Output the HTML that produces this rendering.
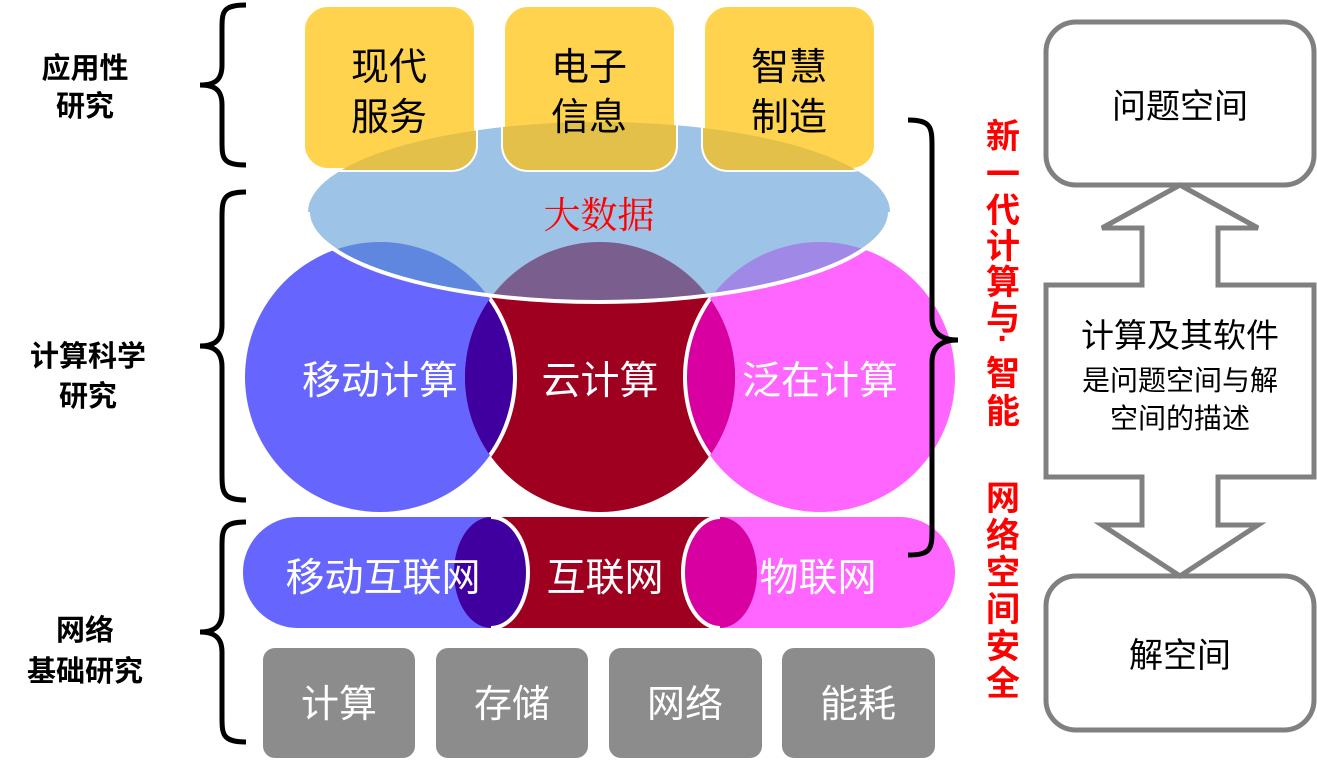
<!DOCTYPE html>
<html><head><meta charset="utf-8"><style>
html,body{margin:0;padding:0;background:#fff;}
svg{display:block;}
text{font-family:"Liberation Sans","Noto Sans CJK SC",sans-serif;}
.serif{font-family:"Liberation Serif","Noto Serif CJK SC",serif;}
</style></head><body>
<svg width="1317" height="767" viewBox="0 0 1317 767" xmlns="http://www.w3.org/2000/svg">
<defs>
<clipPath id="cc"><circle cx="600" cy="377" r="135"/></clipPath>
<clipPath id="cm"><circle cx="380" cy="377" r="135"/></clipPath>
<clipPath id="cp"><circle cx="820" cy="377" r="135"/></clipPath>
<clipPath id="ce"><ellipse cx="599" cy="212" rx="291" ry="90"/></clipPath>
<clipPath id="boxes">
<rect x="303" y="5" width="173" height="165" rx="25"/>
<rect x="503" y="5" width="173" height="165" rx="25"/>
<rect x="703" y="5" width="173" height="165" rx="25"/>
</clipPath>
</defs>

<!-- circles -->
<circle cx="380" cy="377" r="135" fill="#6666ff"/>
<circle cx="820" cy="377" r="135" fill="#ff66ff"/>
<circle cx="600" cy="377" r="135" fill="#a00020"/>
<g clip-path="url(#cc)">
<circle cx="380" cy="377" r="135" fill="#4000a0" stroke="#fff" stroke-width="4"/>
<circle cx="820" cy="377" r="135" fill="#d800a0" stroke="#fff" stroke-width="4"/>
</g>

<!-- big data ellipse -->
<ellipse cx="599" cy="212" rx="291" ry="90" fill="#9dc3e6"/>
<g clip-path="url(#ce)">
<circle cx="380" cy="377" r="135" fill="#5f87e0"/>
<circle cx="820" cy="377" r="135" fill="#a088e6"/>
<circle cx="600" cy="377" r="135" fill="#7a5f8e"/>
</g>
<path d="M308,212 A291,90 0 0 0 890,212" fill="none" stroke="#fff" stroke-width="4"/>

<!-- yellow boxes -->
<g fill="#ffd34d" stroke="#fff" stroke-width="4">
<rect x="303" y="5" width="173" height="165" rx="25"/>
<rect x="503" y="5" width="173" height="165" rx="25"/>
<rect x="703" y="5" width="173" height="165" rx="25"/>
</g>
<g clip-path="url(#boxes)">
<ellipse cx="599" cy="212" rx="291" ry="90" fill="#e2c04a"/>
</g>
<text class="serif" x="599" y="228" font-size="37" fill="#ff0000" text-anchor="middle">大数据</text>

<g font-size="38" fill="#000" text-anchor="middle">
<text x="389" y="80">现代</text><text x="389" y="130">服务</text>
<text x="589" y="80">电子</text><text x="589" y="130">信息</text>
<text x="789" y="80">智慧</text><text x="789" y="130">制造</text>
</g>

<g class="serif" font-size="39" fill="#fff" text-anchor="middle">
<text x="380" y="394">移动计算</text>
<text x="600" y="394">云计算</text>
<text x="820" y="394">泛在计算</text>
</g>

<!-- cylinders -->
<rect x="243" y="517" width="300" height="111" rx="55" fill="#6666ff"/>
<rect x="491" y="517" width="229" height="111" fill="#a00020"/>
<ellipse cx="491" cy="572.5" rx="37" ry="55.5" fill="#4000a0"/>
<path d="M491,517 A37,55.5 0 0 1 491,628" fill="none" stroke="#fff" stroke-width="4"/>
<path d="M720,517 H900 A55,55.5 0 0 1 900,628 H720 Z" fill="#ff66ff"/>
<ellipse cx="720" cy="572.5" rx="37" ry="55.5" fill="#d800a0"/>
<path d="M720,517 A37,55.5 0 0 0 720,628" fill="none" stroke="#fff" stroke-width="4"/>
<g class="serif" font-size="39" fill="#fff" text-anchor="middle">
<text x="383" y="591">移动互联网</text>
<text x="605" y="591">互联网</text>
<text x="818" y="591">物联网</text>
</g>

<!-- gray boxes -->
<g fill="#8c8c8c">
<rect x="263" y="648" width="152" height="110" rx="12"/>
<rect x="436" y="648" width="152" height="110" rx="12"/>
<rect x="609" y="648" width="153" height="110" rx="12"/>
<rect x="782" y="648" width="153" height="110" rx="12"/>
</g>
<g font-size="38" fill="#fff" text-anchor="middle">
<text x="339" y="717">计算</text>
<text x="512" y="717">存储</text>
<text x="685" y="717">网络</text>
<text x="858" y="717">能耗</text>
</g>

<!-- braces -->
<g fill="none" stroke="#000" stroke-width="5">
<path d="M246,5 C222,5 222,12 222,30 L222,65 C222,80 215,85 200,85 C215,85 222,90 222,105 L222,140 C222,158 222,165 246,165"/>
<path d="M246,192 C222,192 222,200 222,220 L222,325 C222,340 215,346 200,346 C215,346 222,352 222,367 L222,472 C222,492 222,500 246,500"/>
<path d="M246,522 C222,522 222,530 222,548 L222,612 C222,626 215,632 200,632 C215,632 222,638 222,652 L222,716 C222,734 222,742 246,742"/>
<path d="M908,120 C932,120 932,128 932,148 L932,318 C932,332 940,340 958,340 C940,340 932,348 932,362 L932,528 C932,548 932,555 908,555"/>
</g>
<g font-size="29" font-weight="bold" fill="#000" text-anchor="middle">
<text x="85" y="78">应用性</text><text x="85" y="116">研究</text>
<text x="88" y="366">计算科学</text><text x="88" y="406">研究</text>
<text x="85" y="640">网络</text><text x="85" y="681">基础研究</text>
</g>

<!-- red vertical text -->
<g font-size="34" font-weight="bold" fill="#ff0000" text-anchor="middle">
<text x="1003" y="148">新</text>
<text x="1003" y="186">一</text>
<text x="1003" y="222">代</text>
<text x="1003" y="258">计</text>
<text x="1003" y="294">算</text>
<text x="1003" y="330">与</text>
<text x="1003" y="350">·</text>
<text x="1003" y="385">智</text>
<text x="1003" y="423">能</text>
<text x="1003" y="510">网</text>
<text x="1003" y="547">络</text>
<text x="1003" y="584">空</text>
<text x="1003" y="621">间</text>
<text x="1003" y="658">安</text>
<text x="1003" y="695">全</text>
</g>

<!-- right flow -->
<g fill="#fff" stroke="#808080" stroke-width="5">
<rect x="1046" y="22" width="268" height="163" rx="30"/>
<rect x="1046" y="576" width="268" height="154" rx="30"/>
<path d="M1180,185 L1258,228 L1218,228 L1218,285 L1314,285 L1314,477 L1218,477 L1218,525 L1258,525 L1180,576 L1102,525 L1142,525 L1142,477 L1046,477 L1046,285 L1142,285 L1142,228 L1102,228 Z"/>
</g>
<g fill="#000" text-anchor="middle">
<text x="1180" y="118" font-size="34">问题空间</text>
<text x="1180" y="667" font-size="34">解空间</text>
<text x="1180" y="347" font-size="33">计算及其软件</text>
<text x="1180" y="390" font-size="28">是问题空间与解</text>
<text x="1180" y="428" font-size="28">空间的描述</text>
</g>
</svg>
</body></html>
